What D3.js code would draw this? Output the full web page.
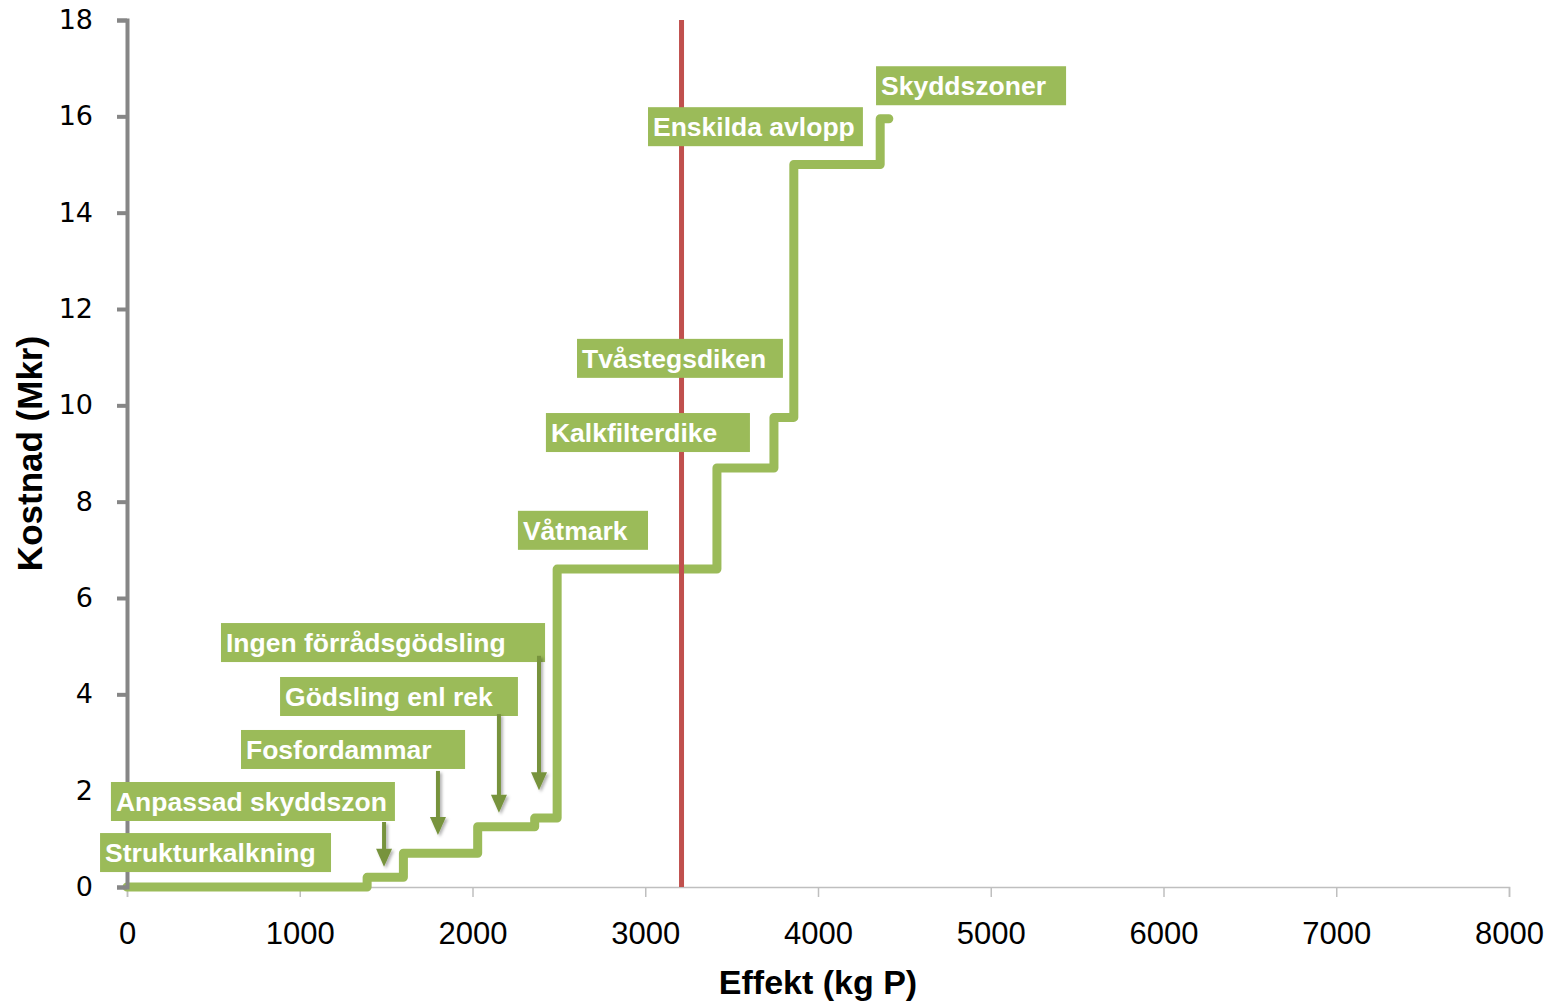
<!DOCTYPE html>
<meta charset="utf-8">
<body style="margin:0;background:#fff;">
<script src="https://d3js.org/d3.v7.min.js"></script>
<script>
	// Data: step curve (cumulative effect vs cumulative cost)
	var effekt  = [0, 1390, 1600, 2030, 2360, 2490, 3415, 3745, 3860, 4360, 4410];
	var kostnad = [0, 0.2, 0.7, 1.25, 1.43, 6.6, 8.7, 9.75, 15.0, 15.95, 15.95];

	// Target line
	var malEffekt = 3210;

	// Labels (box left/right in kg P, box top in Mkr)
	var labelText = ["Strukturkalkning", "Anpassad skyddszon", "Fosfordammar", "Gödsling enl rek",
		"Ingen förrådsgödsling", "Våtmark", "Kalkfilterdike", "Tvåstegsdiken", "Enskilda avlopp", "Skyddszoner"];
	var labelX0 = [-156, -93, 660, 886, 544, 2263, 2425, 2605, 3016, 4336];
	var labelX1 = [1181, 1551, 1957, 2263, 2420, 3016, 3606, 3797, 4260, 5436];
	var labelTop = [1.12, 2.18, 3.26, 4.36, 5.48, 7.81, 9.84, 11.38, 16.19, 17.04];

	// Arrows (x in kg P, from / to in Mkr)
	var arrowX    = [1488, 1800, 2153, 2385];
	var arrowFrom = [1.35, 2.41, 3.59, 4.80];
	var arrowTo   = [0.42, 1.08, 1.54, 2.01];

	var xTicks = [0, 1000, 2000, 3000, 4000, 5000, 6000, 7000, 8000];
	var yTicks = [0, 2, 4, 6, 8, 10, 12, 14, 16, 18];

	var margin = {top: 20, right: 41, bottom: 117, left: 127},
		width = 1550 - margin.left - margin.right,
		height = 1004 - margin.top - margin.bottom;

	var sans = "'Liberation Sans', Arial, sans-serif";

	var svg = d3.select("body").append("svg")
		.attr("width", 1550)
		.attr("height", 1004)
		.style("display", "block");

	var defs = svg.append("defs");
	var f = defs.append("filter").attr("id", "shadow")
		.attr("x", "-50%").attr("y", "-20%").attr("width", "200%").attr("height", "150%");
	f.append("feDropShadow").attr("dx", 2).attr("dy", 2).attr("stdDeviation", 1.5)
		.attr("flood-color", "#000").attr("flood-opacity", 0.3);

	var g = svg.append("g")
		.attr("transform", "translate(" + margin.left + "," + margin.top + ")");

	var x = d3.scaleLinear().domain([0, 8000]).range([0, width]);
	var y = d3.scaleLinear().domain([0, 18]).range([height, 0]);

	// x axis
	var xAxis = g.append("g")
		.attr("transform", "translate(0," + height + ")")
		.call(d3.axisBottom(x).tickValues(xTicks).tickSize(10).tickFormat(d3.format("d")));
	xAxis.select(".domain").attr("stroke", "#bfbfbf").attr("stroke-width", 1.5);
	xAxis.selectAll(".tick line").attr("stroke", "#bfbfbf").attr("stroke-width", 1.5);
	xAxis.selectAll(".tick text")
		.attr("fill", "#000")
		.attr("dy", 0)
		.attr("y", 57)
		.style("font-family", sans)
		.style("font-size", "31px");

	// step line
	var line = d3.line()
		.x(function(d, i) { return x(effekt[i]); })
		.y(function(d, i) { return y(kostnad[i]); })
		.curve(d3.curveStepAfter);

	g.append("path")
		.datum(effekt)
		.attr("d", line)
		.attr("fill", "none")
		.attr("stroke", "#9bbb59")
		.attr("stroke-width", 9)
		.attr("stroke-linejoin", "round")
		.attr("stroke-linecap", "round");

	// red target line
	g.append("line")
		.attr("x1", x(malEffekt)).attr("x2", x(malEffekt))
		.attr("y1", y(18)).attr("y2", y(0))
		.attr("stroke", "#c0504d")
		.attr("stroke-width", 5);

	// y axis
	var yAxis = g.append("g")
		.call(d3.axisLeft(y).tickValues(yTicks).tickSize(10).tickPadding(24));
	yAxis.select(".domain").attr("stroke", "#868686").attr("stroke-width", 4);
	yAxis.selectAll(".tick line").attr("stroke", "#868686").attr("stroke-width", 4);
	yAxis.selectAll(".tick text")
		.attr("fill", "#000")
		.style("font-family", "'DejaVu Sans', sans-serif")
		.style("font-size", "27px");

	// label boxes
	var lab = g.selectAll(".lab")
		.data(labelText)
		.enter().append("g")
		.attr("class", "lab");

	lab.append("rect")
		.attr("x", function(d, i) { return x(labelX0[i]); })
		.attr("y", function(d, i) { return y(labelTop[i]); })
		.attr("width", function(d, i) { return x(labelX1[i]) - x(labelX0[i]); })
		.attr("height", 39)
		.attr("fill", "#9bbb59");

	lab.append("text")
		.attr("x", function(d, i) { return x(labelX0[i]) + 5; })
		.attr("y", function(d, i) { return y(labelTop[i]) + 29; })
		.attr("fill", "#fff")
		.style("font-family", sans)
		.style("font-weight", "bold")
		.style("font-size", "26.5px")
		.text(function(d) { return d; });

	// arrows
	var arr = g.selectAll(".arrow")
		.data(arrowX)
		.enter().append("g")
		.attr("class", "arrow")
		.attr("filter", "url(#shadow)");

	arr.append("line")
		.attr("x1", function(d) { return x(d); })
		.attr("x2", function(d) { return x(d); })
		.attr("y1", function(d, i) { return y(arrowFrom[i]); })
		.attr("y2", function(d, i) { return y(arrowTo[i]) - 14; })
		.attr("stroke", "#77933c")
		.attr("stroke-width", 4);

	arr.append("path")
		.attr("d", function(d, i) {
			var cx = x(d), ty = y(arrowTo[i]);
			return "M" + (cx - 8) + "," + (ty - 18) + "L" + (cx + 8) + "," + (ty - 18) + "L" + cx + "," + ty + "Z";
		})
		.attr("fill", "#77933c");

	// axis titles
	svg.append("text")
		.attr("x", margin.left + width / 2)
		.attr("y", 994)
		.attr("text-anchor", "middle")
		.style("font-family", sans)
		.style("font-weight", "bold")
		.style("font-size", "34px")
		.text("Effekt (kg P)");

	svg.append("text")
		.attr("transform", "translate(42," + (margin.top + height / 2) + ") rotate(-90)")
		.attr("text-anchor", "middle")
		.style("font-family", sans)
		.style("font-weight", "bold")
		.style("font-size", "35px")
		.text("Kostnad (Mkr)");
</script>
</body>
